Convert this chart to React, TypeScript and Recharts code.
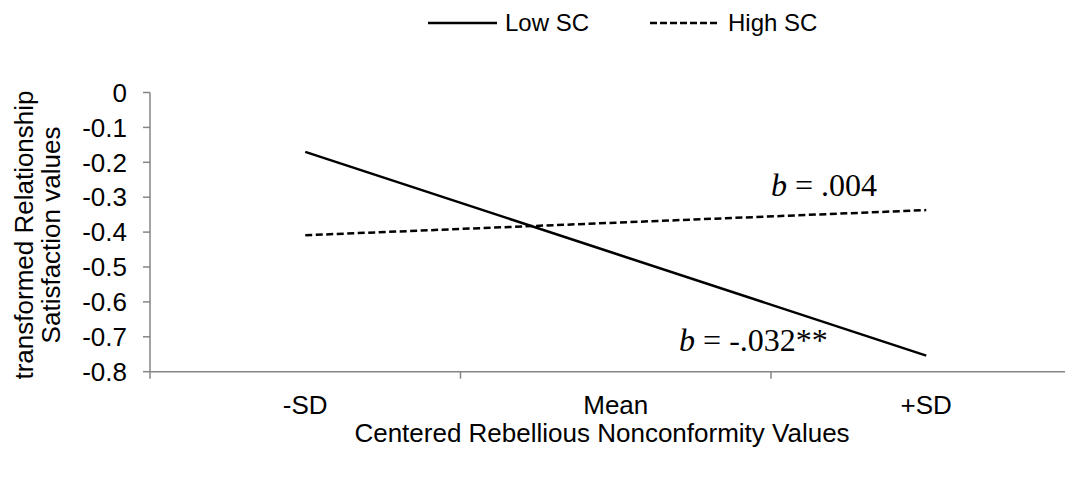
import React from 'react';
import { LineChart, Line, XAxis, YAxis, ReferenceDot } from 'recharts';

const categories = ['-SD', 'Mean', '+SD'];
const lowSC = [-0.17, -0.462, -0.754];
const highSC = [-0.409, -0.373, -0.337];
const yTicks = [0, -0.1, -0.2, -0.3, -0.4, -0.5, -0.6, -0.7, -0.8];
const xTicks = [0, 0.5, 1, 1.5, 2, 2.5, 3];
const annotations = [
  { x: 2.0, y: -0.2966, text: '= .004' },
  { x: 1.704, y: -0.7407, text: '= -.032**' },
];

const data = categories.map((c, i) => ({ x: i + 0.5, name: c, low: lowSC[i], high: highSC[i] }));

const AXIS = '#868686';
const SANS = '"Liberation Sans", Arial, sans-serif';
const SERIF = '"Liberation Serif", "Times New Roman", serif';

const XTick = (props: any) => {
  const { x, y, payload } = props;
  const v = payload.value;
  if (Number.isInteger(v)) {
    return <line x1={x} x2={x} y1={y} y2={y + 7} stroke={AXIS} strokeWidth={1.5} />;
  }
  const idx = Math.floor(v);
  return (
    <text x={x} y={y + 42} textAnchor="middle" fontFamily={SANS} fontSize={26} fill="#000">
      {categories[idx]}
    </text>
  );
};

const YLabel = () => {
  const cy = 235;
  return (
    <text transform="rotate(-90, 0, 0)" fontFamily={SANS} fontSize={26} fill="#000" textAnchor="middle">
      <tspan x={-cy} y={33}>transformed Relationship</tspan>
      <tspan x={-cy} y={60}>Satisfaction values</tspan>
    </text>
  );
};

const XLabel = (props: any) => {
  const { viewBox } = props;
  return (
    <text x={602} y={viewBox.y + 70} textAnchor="middle" fontFamily={SANS} fontSize={26} fill="#000">
      Centered Rebellious Nonconformity Values
    </text>
  );
};

const makeAnno = (text: string) => (props: any) => {
  const { viewBox } = props;
  return (
    <text x={viewBox.x} y={viewBox.y} fontFamily={SERIF} fontSize={32} fill="#000">
      <tspan fontStyle="italic">b</tspan> {text}
    </text>
  );
};

const Legend = () => (
  <div style={{ position: 'absolute', left: 0, top: 0, width: 1073, height: 45, pointerEvents: 'none' }}>
    <svg width={1073} height={45}>
      <line x1={428} x2={497} y1={23} y2={23} stroke="#000" strokeWidth={2.5} />
      <text x={505} y={31} fontFamily={SANS} fontSize={24} fill="#000">Low SC</text>
      <line x1={650} x2={720} y1={23} y2={23} stroke="#000" strokeWidth={2.5} strokeDasharray="7 3" />
      <text x={728} y={31} fontFamily={SANS} fontSize={24} fill="#000">High SC</text>
    </svg>
  </div>
);

export default function App() {
  return (
    <div style={{ margin: -8, width: 1073, height: 477, overflow: 'hidden', position: 'relative', background: '#fff' }}>
      <LineChart width={1100} height={477} data={data} margin={{ top: 92.5, right: 18.5, bottom: 0, left: 0 }}>
        <XAxis
          dataKey="x"
          type="number"
          domain={[0, 3]}
          ticks={xTicks}
          interval={0}
          tick={<XTick />}
          tickLine={false}
          tickSize={0}
          tickMargin={0}
          axisLine={{ stroke: AXIS, strokeWidth: 1.5 }}
          height={105.3}
          label={<XLabel />}
        />
        <YAxis
          type="number"
          domain={[-0.8, 0]}
          ticks={yTicks}
          interval={0}
          width={150}
          tickSize={7}
          tickMargin={16}
          tickLine={{ stroke: AXIS, strokeWidth: 1.5 }}
          axisLine={{ stroke: AXIS, strokeWidth: 1.5 }}
          tick={{ fill: '#000', fontFamily: SANS, fontSize: 26 }}
          tickFormatter={(v: number) => (v === 0 ? '0' : v.toFixed(1))}
          label={<YLabel />}
        />
        <Line dataKey="low" stroke="#000" strokeWidth={2.5} dot={false} isAnimationActive={false} />
        <Line dataKey="high" stroke="#000" strokeWidth={2.5} strokeDasharray="7 3.5" dot={false} isAnimationActive={false} />
        {annotations.map((a, i) => (
          <ReferenceDot key={i} x={a.x} y={a.y} r={0} fill="none" stroke="none" label={makeAnno(a.text)} />
        ))}
      </LineChart>
      <Legend />
    </div>
  );
}
